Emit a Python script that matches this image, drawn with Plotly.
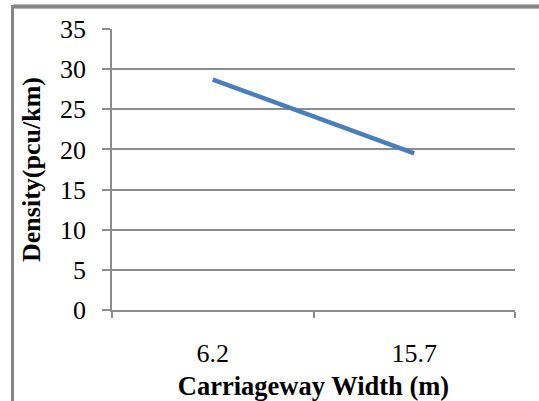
import plotly.graph_objects as go

categories = ["6.2", "15.7"]
density = [28.7, 19.5]
y_ticks = [0, 5, 10, 15, 20, 25, 30, 35]

fig = go.Figure()
fig.add_trace(go.Scatter(
    x=categories, y=density, mode="lines",
    line=dict(color="#4a7ebb", width=4.5),
    showlegend=False,
))

font_family = "Liberation Serif, Times New Roman, serif"
grid = "#8c8c8c"
border = "#868686"

fig.update_layout(
    width=539, height=401,
    margin=dict(l=112, r=24, t=28.5, b=90.5),
    paper_bgcolor="white", plot_bgcolor="white",
    font=dict(family=font_family, color="black", size=26),
    xaxis=dict(
        type="category", tickson="boundaries",
        ticks="outside", ticklen=6, tickcolor=grid, tickwidth=1.5,
        showgrid=False, showline=True, linecolor=grid, linewidth=1.5,
        tickfont=dict(size=26), ticklabelstandoff=19,
        title=dict(text="<b>Carriageway Width (m)</b>", font=dict(size=26.5), standoff=16),
        range=[-0.5, 1.5],
        automargin=False,
    ),
    yaxis=dict(
        range=[0, 35], tickvals=y_ticks,
        ticks="outside", ticklen=8, tickcolor=grid, tickwidth=1.5,
        showgrid=True, gridcolor=grid, gridwidth=1.5,
        showline=True, linecolor=grid, linewidth=1.5,
        zeroline=False,
        tickfont=dict(size=26), ticklabelstandoff=11,
        title=dict(text="<b>Density(pcu/km)</b>", font=dict(size=26), standoff=12),
        automargin=False,
    ),
    shapes=[
        dict(type="line", xref="paper", yref="paper",
             x0=-0.245, x1=1.2, y0=1.08, y1=1.08,
             line=dict(color="#707070", width=4)),
    ],
)

frame_js = """
document.body.style.margin = '0';
document.body.style.overflow = 'hidden';
var f = document.createElement('div');
f.style.position = 'fixed';
f.style.left = '11px';
f.style.top = '5px';
f.style.width = '700px';
f.style.height = '600px';
f.style.borderTop = '3px solid #868686';
f.style.borderLeft = '3px solid #868686';
f.style.pointerEvents = 'none';
f.style.zIndex = '1000';
document.body.appendChild(f);
"""

fig.write_html("out.html", config={"displayModeBar": False}, post_script=frame_js)
